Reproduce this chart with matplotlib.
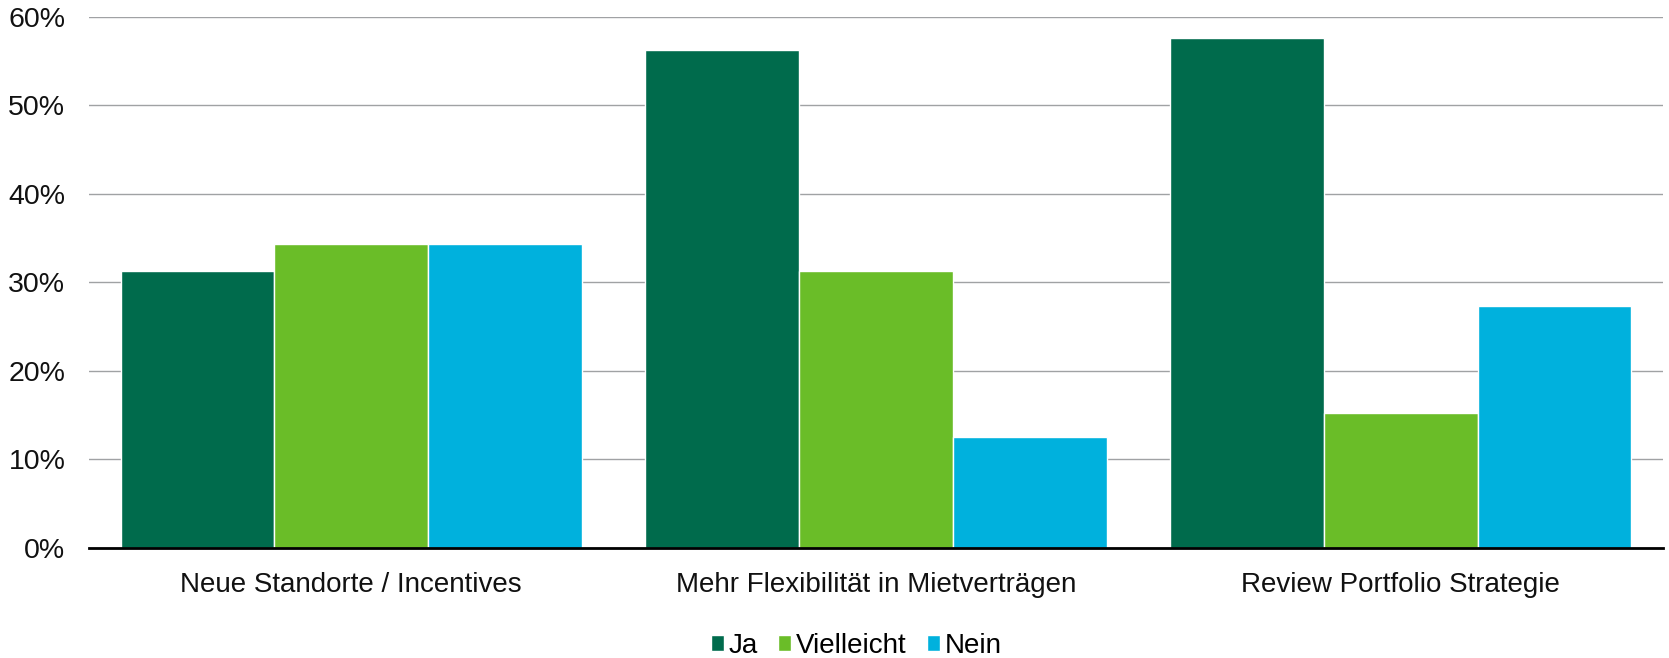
import numpy as np
import matplotlib.pyplot as plt
from matplotlib.ticker import PercentFormatter

plt.rcParams['font.family'] = ['Liberation Sans', 'DejaVu Sans']

# Umfragedaten (Anteil der Antworten in %)
kategorien = ['Neue Standorte / Incentives',
              'Mehr Flexibilität in Mietverträgen',
              'Review Portfolio Strategie']
ja         = [31.25, 56.25, 57.6]
vielleicht = [34.4, 31.25, 15.2]
nein       = [34.4, 12.5, 27.3]

serien = [('Ja', ja, '#006B4C'),
          ('Vielleicht', vielleicht, '#6ABD28'),
          ('Nein', nein, '#00B1DD')]

fig = plt.figure(figsize=(16.69, 6.58), dpi=100)
ax = fig.add_axes([0.0533, 0.1672, 0.9431, 0.807])

x = np.arange(len(kategorien))
breite = 0.293
for i, (name, werte, farbe) in enumerate(serien):
    ax.bar(x + (i - 1) * breite, werte, width=breite, color=farbe,
           edgecolor='white', linewidth=1, label=name, zorder=2)

ax.set_xlim(-0.5, len(kategorien) - 0.5)
ax.set_ylim(0, 60)
ax.set_yticks(np.arange(0, 61, 10))
ax.yaxis.set_major_formatter(PercentFormatter(decimals=0))
ax.set_xticks(x)
ax.set_xticklabels(kategorien)

ax.grid(axis='y', color='#A0A2A4', linewidth=1, zorder=0)
for s in ['top', 'right', 'left']:
    ax.spines[s].set_visible(False)
ax.spines['bottom'].set_color('black')
ax.spines['bottom'].set_linewidth(2)
ax.spines['bottom'].set_zorder(3)

ax.tick_params(axis='y', length=0, pad=17, labelsize=20.5, labelcolor='#111111')
ax.tick_params(axis='x', length=0, pad=17, labelsize=20, labelcolor='#111111')

fig.legend(loc='center', bbox_to_anchor=(0.513, 1 - 646 / 658), ncol=3,
           frameon=False, fontsize=20, handlelength=0.47, handleheight=0.47,
           handletextpad=0.15, columnspacing=0.75)

fig.savefig('out.png', dpi=100)
